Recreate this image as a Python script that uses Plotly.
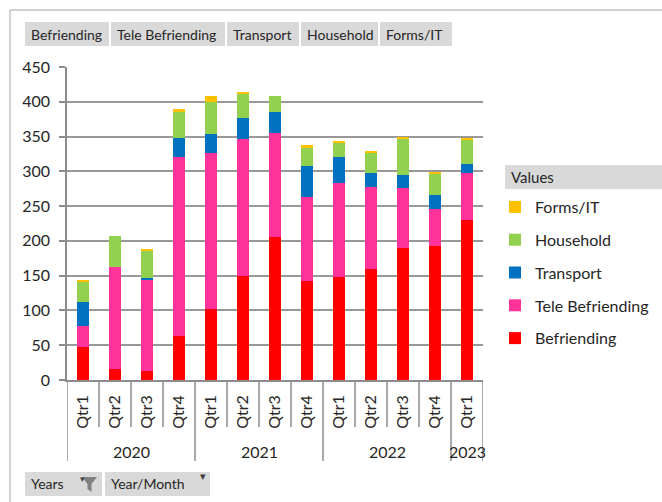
import plotly.graph_objects as go

# ---- data ----
years = ["2020"] * 4 + ["2021"] * 4 + ["2022"] * 4 + ["2023"]
quarters = ["Qtr1", "Qtr2", "Qtr3", "Qtr4"] * 3 + ["Qtr1"]
befriending = [47, 16, 13, 63, 102, 150, 206, 142, 148, 159, 190, 193, 230]
tele_befriending = [31, 146, 131, 257, 225, 196, 149, 121, 135, 119, 86, 53, 68]
transport = [34, 0, 3, 28, 26, 31, 30, 44, 37, 19, 19, 20, 13]
household = [30, 45, 39, 37, 46, 34, 24, 26, 22, 30, 51, 31, 34]
forms_it = [2, 0, 1, 4, 9, 3, 0, 5, 1, 2, 4, 2, 3]

series_names = ["Befriending", "Tele Befriending", "Transport", "Household", "Forms/IT"]
series_values = [befriending, tele_befriending, transport, household, forms_it]
series_colors = ["#FF0000", "#FF3399", "#0070C0", "#92D050", "#FFC000"]
y_ticks = [0, 50, 100, 150, 200, 250, 300, 350, 400, 450]
filter_buttons = ["Years", "Year/Month"]

# ---- layout geometry (pixels) ----
W_FIG, H_FIG = 662, 502
L, R, T, B = 67, 483, 67, 380
PW, PH = R - L, B - T
FONT = "Lato"
TXT = "#262626"


def px(x):
    return (x - L) / PW


def py(y):
    return (B - y) / PH


cats = [f"{y} {q}" for y, q in zip(years, quarters)]

fig = go.Figure()
n = len(series_names)
for k, (name, vals, col) in enumerate(zip(series_names, series_values, series_colors)):
    fig.add_trace(go.Bar(
        x=cats, y=vals, name=name, marker=dict(color=col, line=dict(width=0)),
        legendgroup=name, legendrank=n - k,
    ))

shapes = []
annotations = []

# outer frame
shapes.append(dict(type="line", xref="paper", yref="paper", x0=px(10), x1=px(10), y0=py(10), y1=py(505),
                   line=dict(color="#a6a6a6", width=1)))
shapes.append(dict(type="line", xref="paper", yref="paper", x0=px(10), x1=px(665), y0=py(10), y1=py(10),
                   line=dict(color="#a6a6a6", width=1)))

# top field buttons
btn_x = [(25, 109), (111, 225), (227, 299), (301, 378), (380, 452)]
for name, (x0, x1) in zip(series_names, btn_x):
    shapes.append(dict(type="rect", xref="paper", yref="paper", x0=px(x0), x1=px(x1), y0=py(46), y1=py(22),
                       fillcolor="#d9d9d9", line=dict(width=0), layer="below"))
    annotations.append(dict(text=name, xref="paper", yref="paper", x=px(x0 + 4), y=py(34),
                            xanchor="left", yanchor="middle", showarrow=False,
                            font=dict(family=FONT, size=14, color=TXT)))

# bottom filter buttons
bb_x = [(25, 102), (105, 210)]
for name, (x0, x1) in zip(filter_buttons, bb_x):
    shapes.append(dict(type="rect", xref="paper", yref="paper", x0=px(x0), x1=px(x1), y0=py(496), y1=py(472),
                       fillcolor="#d9d9d9", line=dict(width=0), layer="below"))
    annotations.append(dict(text=name, xref="paper", yref="paper", x=px(x0 + 4), y=py(484),
                            xanchor="left", yanchor="middle", showarrow=False,
                            font=dict(family=FONT, size=14, color=TXT)))
# small dropdown arrows and funnel icon
annotations.append(dict(text="▾", xref="paper", yref="paper", x=px(78), y=py(486), showarrow=False,
                        font=dict(family="DejaVu Sans", size=9, color="#404040")))
shapes.append(dict(type="path", xref="paper", yref="paper",
                   path=f"M {px(82)},{py(477)} L {px(97)},{py(477)} L {px(91.5)},{py(484)} L {px(91.5)},{py(492)} "
                        f"L {px(87.5)},{py(489)} L {px(87.5)},{py(484)} Z",
                   fillcolor="#808080", line=dict(width=0)))
annotations.append(dict(text="▾", xref="paper", yref="paper", x=px(198), y=py(485), showarrow=False,
                        font=dict(family="DejaVu Sans", size=11, color="#404040")))

# legend header box
shapes.append(dict(type="rect", xref="paper", yref="paper", x0=px(505), x1=px(665), y0=py(189), y1=py(165),
                   fillcolor="#d9d9d9", line=dict(width=0), layer="below"))
annotations.append(dict(text="Values", xref="paper", yref="paper", x=px(509), y=py(177),
                        xanchor="left", yanchor="middle", showarrow=False,
                        font=dict(family=FONT, size=15, color=TXT)))

# x-axis dividers
for i in range(len(cats) + 1):
    long = i == 0 or i == len(cats) or years[i] != years[i - 1]
    y_end = 461 if long else 427
    shapes.append(dict(type="line", xref="x", yref="paper", x0=i - 0.5, x1=i - 0.5, y0=0, y1=py(y_end),
                       line=dict(color="#8c8c8c", width=1.5)))

# year labels
seen = []
for y in years:
    if y not in seen:
        seen.append(y)
for y in seen:
    idx = [i for i, v in enumerate(years) if v == y]
    annotations.append(dict(text=y, xref="x", yref="paper", x=sum(idx) / len(idx), y=py(451),
                            xanchor="center", yanchor="middle", showarrow=False,
                            font=dict(family=FONT, size=16, color=TXT)))

fig.update_layout(
    width=W_FIG, height=H_FIG,
    margin=dict(l=L, r=W_FIG - R, t=T, b=H_FIG - B, pad=0),
    paper_bgcolor="white", plot_bgcolor="white",
    barmode="stack", bargap=0.62,
    font=dict(family=FONT, size=15, color=TXT),
    showlegend=True,
    legend=dict(xref="container", yref="container", x=495 / W_FIG, y=1 - 190 / H_FIG,
                xanchor="left", yanchor="top", traceorder="grouped", tracegroupgap=9,
                font=dict(family=FONT, size=16, color=TXT), bgcolor="rgba(0,0,0,0)",
                itemclick=False),
    shapes=shapes, annotations=annotations,
    xaxis=dict(type="category", categoryorder="array", categoryarray=cats,
               tickvals=cats, ticktext=quarters, tickangle=-90, ticks="",
               ticklabelstandoff=7, showline=True, linecolor="#8c8c8c", linewidth=1.5,
               showgrid=False, range=[-0.5, len(cats) - 0.5],
               tickfont=dict(family=FONT, size=16, color=TXT)),
    yaxis=dict(range=[0, 450], tickvals=y_ticks, showgrid=True, gridcolor="#999999", gridwidth=1.5,
               showline=True, linecolor="#8c8c8c", linewidth=1.5, ticks="outside", ticklen=6,
               tickcolor="#8c8c8c", tickwidth=1.5, zeroline=False, ticklabelstandoff=6,
               tickfont=dict(family=FONT, size=16, color=TXT)),
)

fig.write_html("out.html", config={"displayModeBar": False},
               post_script="document.body.style.margin='0';document.body.style.overflow='hidden';")
